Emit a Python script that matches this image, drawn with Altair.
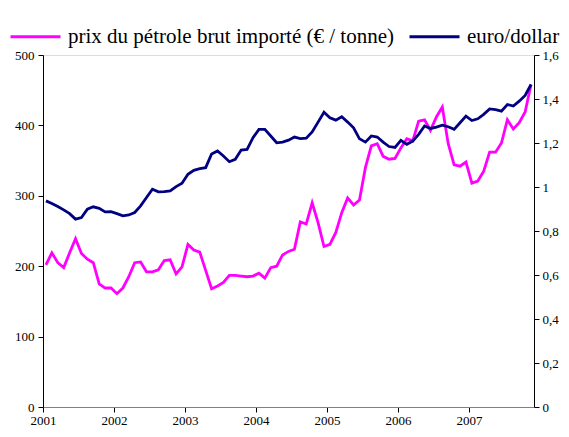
import altair as alt
import pandas as pd

PINK_NAME = "prix du pétrole brut importé (€ / tonne)"
BLUE_NAME = "euro/dollar"

# monthly values, Jan 2001 .. Nov 2007
oil = [202, 219, 205, 198, 219, 239, 218, 210, 205, 175, 169, 169,
       161, 169, 185, 205, 206, 192, 192, 195, 208, 209, 189, 199,
       231, 223, 220, 194, 168, 172, 177, 187, 187, 186, 185, 186,
       190, 183, 198, 200, 216, 221, 224, 263, 260, 290, 262, 228,
       231, 248, 276, 297, 287, 294, 340, 371, 374, 356, 352, 353,
       368, 381, 378, 406, 408, 393, 412, 426, 374, 344, 342, 348,
       318, 321, 335, 362, 362, 375, 408, 395, 404, 419, 458]
eurusd = [0.937, 0.925, 0.911, 0.896, 0.879, 0.854, 0.861, 0.899, 0.910, 0.903, 0.887, 0.888,
          0.879, 0.869, 0.873, 0.884, 0.914, 0.952, 0.990, 0.978, 0.979, 0.982, 1.002, 1.017,
          1.058, 1.076, 1.083, 1.088, 1.150, 1.164, 1.141, 1.115, 1.126, 1.168, 1.171, 1.224,
          1.262, 1.262, 1.232, 1.201, 1.204, 1.213, 1.227, 1.220, 1.222, 1.250, 1.295, 1.340,
          1.315, 1.304, 1.319, 1.295, 1.269, 1.219, 1.204, 1.232, 1.227, 1.204, 1.184, 1.180,
          1.212, 1.194, 1.209, 1.239, 1.277, 1.266, 1.272, 1.281, 1.274, 1.262, 1.292, 1.322,
          1.302, 1.310, 1.330, 1.355, 1.352, 1.345, 1.375, 1.368, 1.390, 1.416, 1.466]
years = [2001, 2002, 2003, 2004, 2005, 2006, 2007]

n = len(oil)
df = pd.DataFrame({
    "t": [i + 0.5 for i in range(n)] * 2,
    "v": oil + eurusd,
    "series": [PINK_NAME] * n + [BLUE_NAME] * n,
})

FONT = "'Liberation Serif', 'Times New Roman', Times, serif"
color = alt.Color("series:N",
                  scale=alt.Scale(domain=[PINK_NAME, BLUE_NAME], range=["#FF00FF", "#000080"]),
                  legend=alt.Legend(title=None, orient="none", legendX=-34, legendY=-45,
                                    direction="horizontal", symbolType="stroke",
                                    symbolSize=2500, symbolStrokeWidth=3,
                                    labelFont=FONT, labelFontSize=21, labelColor="black",
                                    labelLimit=0, columnPadding=8, labelOffset=6))

xenc = alt.X("t:Q", scale=alt.Scale(domain=[0, n], nice=False, zero=False),
             axis=alt.Axis(title=None, values=[12 * k for k in range(len(years))],
                           labelExpr="2001 + datum.value / 12", grid=False, labelFlush=False,
                           domainColor="#808080", tickColor="black", tickSize=5,
                           labelFont=FONT, labelFontSize=13, labelColor="black",
                           labelPadding=2))

base = alt.Chart(df)
oil_layer = base.transform_filter(alt.datum.series == PINK_NAME).mark_line(strokeWidth=2.8).encode(
    x=xenc,
    y=alt.Y("v:Q", scale=alt.Scale(domain=[0, 500]),
            axis=alt.Axis(title=None, orient="left", values=[0, 100, 200, 300, 400, 500],
                          grid=False, domainColor="black", tickColor="black", tickSize=5,
                          labelFont=FONT, labelFontSize=13, labelColor="black", labelPadding=4)),
    color=color,
)
fx_layer = base.transform_filter(alt.datum.series == BLUE_NAME).mark_line(strokeWidth=2.8).encode(
    x=xenc,
    y=alt.Y("v:Q", scale=alt.Scale(domain=[0, 1.6]),
            axis=alt.Axis(title=None, orient="right",
                          values=[0, 0.2, 0.4, 0.6, 0.8, 1.0, 1.2, 1.4, 1.6],
                          labelExpr="replace(toString(round(datum.value * 10) / 10), '.', ',')",
                          grid=False, domainColor="black", tickColor="black", tickSize=5,
                          labelFont=FONT, labelFontSize=13, labelColor="black", labelPadding=3)),
    color=color,
)

chart = alt.layer(oil_layer, fx_layer).resolve_scale(y="independent").properties(
    width=491, height=352,
    autosize=alt.AutoSizeParams(type="none"),
    padding={"left": 35, "top": 47, "right": 27, "bottom": 22},
    background="white",
).configure_view(stroke=None).configure(font=FONT)

chart.save("out.html", embed_options={"renderer": "svg", "actions": False})
